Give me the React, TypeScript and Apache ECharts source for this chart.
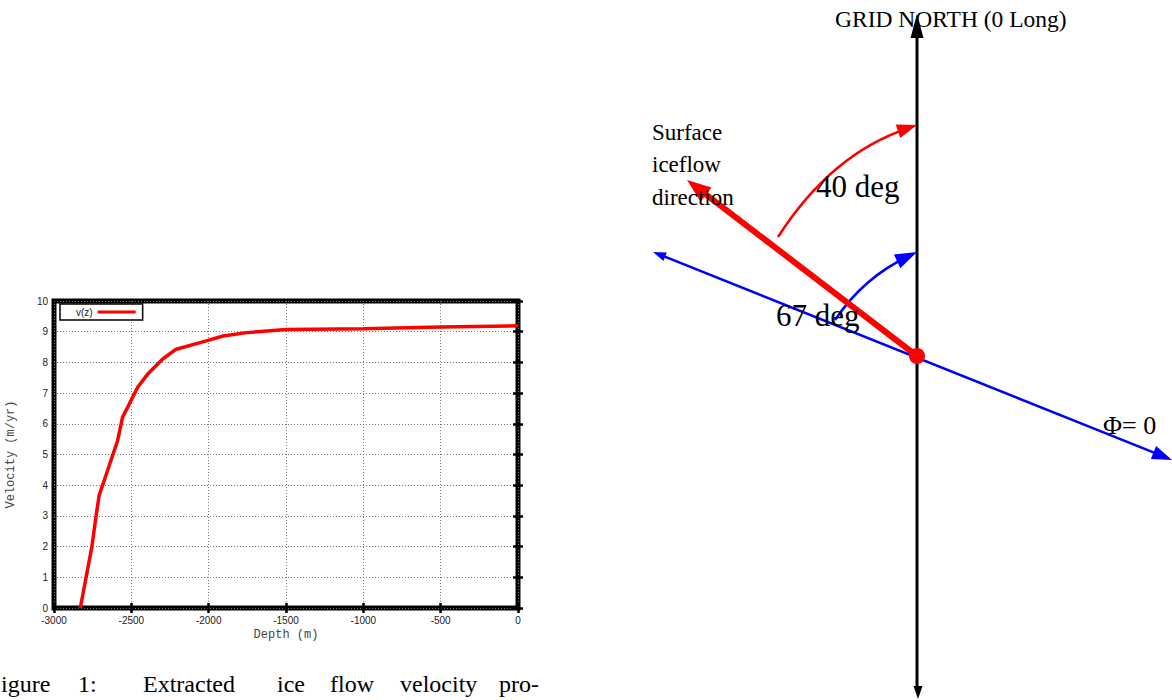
import React, { useEffect, useRef } from "react";
import * as echarts from "echarts";

// ---- Data ----
const depth = [-2830, -2755, -2729, -2708, -2686, -2589, -2557, -2459, -2394, -2297, -2210, -2015, -1907, -1755, -1500, -1000, -500, 0];
const velocity = [0, 2.0, 2.96, 3.67, 4.0, 5.45, 6.21, 7.19, 7.62, 8.11, 8.43, 8.7, 8.86, 8.97, 9.07, 9.1, 9.15, 9.19];
const seriesName = "v(z)";
const xMin = -3000, xMax = 0, xStep = 500;
const yMin = 0, yMax = 10, yStep = 1;
const xTitle = "Depth (m)";
const yTitle = "Velocity (m/yr)";
const captionWords = ["igure", "1:", "Extracted", "ice", "flow", "velocity", "pro-"];
const diagramTexts = {
  north: "GRID NORTH (0 Long)",
  surface: ["Surface", "iceflow", "direction"],
  red: "40 deg",
  blue: "67 deg",
  phi: "Φ= 0",
};

type P = [number, number];
function head(tip: P, dir: P, len: number, hw: number): P[] {
  const l = Math.hypot(dir[0], dir[1]);
  const ux = dir[0] / l, uy = dir[1] / l;
  const bx = tip[0] - ux * len, by = tip[1] - uy * len;
  return [tip, [bx - uy * hw, by + ux * hw], [bx + uy * hw, by - ux * hw]];
}
function base(tip: P, dir: P, len: number): P {
  const l = Math.hypot(dir[0], dir[1]);
  return [tip[0] - (dir[0] / l) * len, tip[1] - (dir[1] / l) * len];
}

function txt(text: string, x: number, baseline: number, size: number, color = "#000") {
  return {
    type: "text",
    x,
    y: baseline - size * 0.35,
    z: 100,
    style: {
      text,
      fill: color,
      font: `${size}px "Liberation Serif", "Times New Roman", serif`,
      textAlign: "left",
      textVerticalAlign: "middle",
      align: "left",
      verticalAlign: "middle",
    },
  };
}

export default function App() {
  const ref = useRef<HTMLDivElement>(null);
  useEffect(() => {
    if (!ref.current) return;
    const chart = echarts.init(ref.current, undefined, { renderer: "svg" });

    const C: P = [917, 356];
    const black = "#000";
    const red = "#ff0000";
    const blue = "#0000ff";

    const blueL: P = [653, 252];
    const blueR: P = [1172, 460];
    const dirL: P = [blueL[0] - C[0], blueL[1] - C[1]];
    const dirR: P = [blueR[0] - C[0], blueR[1] - C[1]];
    const redTip: P = [687, 180];
    const dirRed: P = [redTip[0] - C[0], redTip[1] - C[1]];
    const rA0: P = [778, 237], rA1: P = [832, 153], rA2: P = [917, 125];
    const bA0: P = [835, 320], bA1: P = [864, 277], bA2: P = [917, 252];

    const lineSL = base(blueL, dirL, 10);
    const lineSR = base(blueR, dirR, 16);
    const redBase = base(redTip, dirRed, 20);

    const graphics: any[] = [
      { type: "line", shape: { x1: 917, y1: 36, x2: 917, y2: 688 }, style: { stroke: black, lineWidth: 3 } },
      { type: "polygon", shape: { points: head([917, 14], [0, -1], 24, 6.5) }, style: { fill: black } },
      { type: "polygon", shape: { points: head([918, 699], [0, 1], 13, 4.5) }, style: { fill: black } },
      { type: "line", shape: { x1: lineSL[0], y1: lineSL[1], x2: lineSR[0], y2: lineSR[1] }, style: { stroke: blue, lineWidth: 2.5 } },
      { type: "polygon", shape: { points: head(blueL, dirL, 13, 4.5) }, style: { fill: blue } },
      { type: "polygon", shape: { points: head(blueR, dirR, 20, 7) }, style: { fill: blue } },
      { type: "bezierCurve", shape: { x1: bA0[0], y1: bA0[1], cpx1: bA1[0], cpy1: bA1[1], x2: bA2[0] - 8, y2: bA2[1] + 4 }, style: { stroke: blue, lineWidth: 2.5, fill: "none" } },
      { type: "polygon", shape: { points: head(bA2, [bA2[0] - bA1[0], bA2[1] - bA1[1]], 22, 7.5) }, style: { fill: blue } },
      { type: "bezierCurve", shape: { x1: rA0[0], y1: rA0[1], cpx1: rA1[0], cpy1: rA1[1], x2: rA2[0] - 8, y2: rA2[1] + 3 }, style: { stroke: red, lineWidth: 2.5, fill: "none" } },
      { type: "polygon", shape: { points: head(rA2, [rA2[0] - rA1[0], rA2[1] - rA1[1]], 20, 7) }, style: { fill: red } },
      { type: "line", shape: { x1: C[0], y1: C[1], x2: redBase[0], y2: redBase[1] }, style: { stroke: red, lineWidth: 6 } },
      { type: "polygon", shape: { points: head(redTip, dirRed, 24, 9) }, style: { fill: red } },
      { type: "circle", shape: { cx: C[0], cy: C[1], r: 8 }, style: { fill: red } },
      txt(diagramTexts.north, 835, 27, 23.5),
      txt(diagramTexts.surface[0], 652, 141, 23),
      txt(diagramTexts.surface[1], 652, 173, 23),
      txt(diagramTexts.surface[2], 652, 206, 23),
      txt(diagramTexts.red, 816, 197, 31),
      txt(diagramTexts.blue, 776, 326, 31),
      txt(diagramTexts.phi, 1103, 435, 26),
    ];

    const captionX = [1, 78, 143, 277, 330, 400, 499];
    captionWords.forEach((w, i) => graphics.push(txt(w, captionX[i], 692, 24)));

    const tickStyle = { show: true, inside: true, length: 5, lineStyle: { color: "#000", width: 2.5 } };
    const labelFont = { fontFamily: '"Liberation Sans", Arial, sans-serif', fontSize: 10, color: "#222" };
    const titleFont = { fontFamily: '"Liberation Mono", "DejaVu Sans Mono", monospace', fontSize: 12, color: "#444" };
    const split = { show: true, lineStyle: { color: "#777", width: 1, type: [1, 2] as any } };
    const plain = (v: number) => String(v);

    chart.setOption({
      animation: false,
      backgroundColor: "#fff",
      grid: { left: 54, top: 301, width: 464, height: 307, show: true, borderColor: "#000", borderWidth: 5, backgroundColor: "transparent" },
      legend: {
        left: 60,
        top: 304,
        orient: "horizontal",
        align: "right",
        icon: "rect",
        itemWidth: 38,
        itemHeight: 3,
        padding: [3, 7, 3, 16],
        borderColor: "#000",
        borderWidth: 1.5,
        backgroundColor: "#fff",
        textStyle: { fontFamily: '"Liberation Sans", Arial, sans-serif', fontSize: 10, color: "#222" },
        data: [seriesName],
      },
      xAxis: [
        {
          type: "value", min: xMin, max: xMax, interval: xStep, position: "bottom",
          axisLine: { show: false }, axisTick: tickStyle,
          axisLabel: { ...labelFont, margin: 7, showMinLabel: true, showMaxLabel: true, formatter: plain },
          splitLine: split,
          name: xTitle, nameLocation: "middle", nameGap: 21, nameTextStyle: titleFont,
        },
        {
          type: "value", min: xMin, max: xMax, interval: xStep, position: "top",
          axisLine: { show: false }, axisTick: tickStyle, axisLabel: { show: false }, splitLine: { show: false },
        },
      ],
      yAxis: [
        {
          type: "value", min: yMin, max: yMax, interval: yStep, position: "left",
          axisLine: { show: false }, axisTick: tickStyle,
          axisLabel: { ...labelFont, margin: 6, showMinLabel: true, showMaxLabel: true, formatter: plain },
          splitLine: split,
          name: yTitle, nameLocation: "middle", nameGap: 37, nameTextStyle: titleFont,
        },
        {
          type: "value", min: yMin, max: yMax, interval: yStep, position: "right",
          axisLine: { show: false }, axisTick: tickStyle, axisLabel: { show: false }, splitLine: { show: false },
        },
      ],
      series: [
        {
          name: seriesName,
          type: "line",
          xAxisIndex: 0,
          yAxisIndex: 0,
          data: depth.map((d, i) => [d, velocity[i]]),
          showSymbol: false,
          symbol: "none",
          lineStyle: { color: red, width: 3.5 },
          itemStyle: { color: red },
          z: 3,
        },
      ],
      graphic: graphics,
    });
    return () => chart.dispose();
  }, []);

  return (
    <div
      ref={ref}
      style={{ position: "fixed", left: 0, top: 0, width: 1172, height: 700, background: "#fff" }}
    />
  );
}
